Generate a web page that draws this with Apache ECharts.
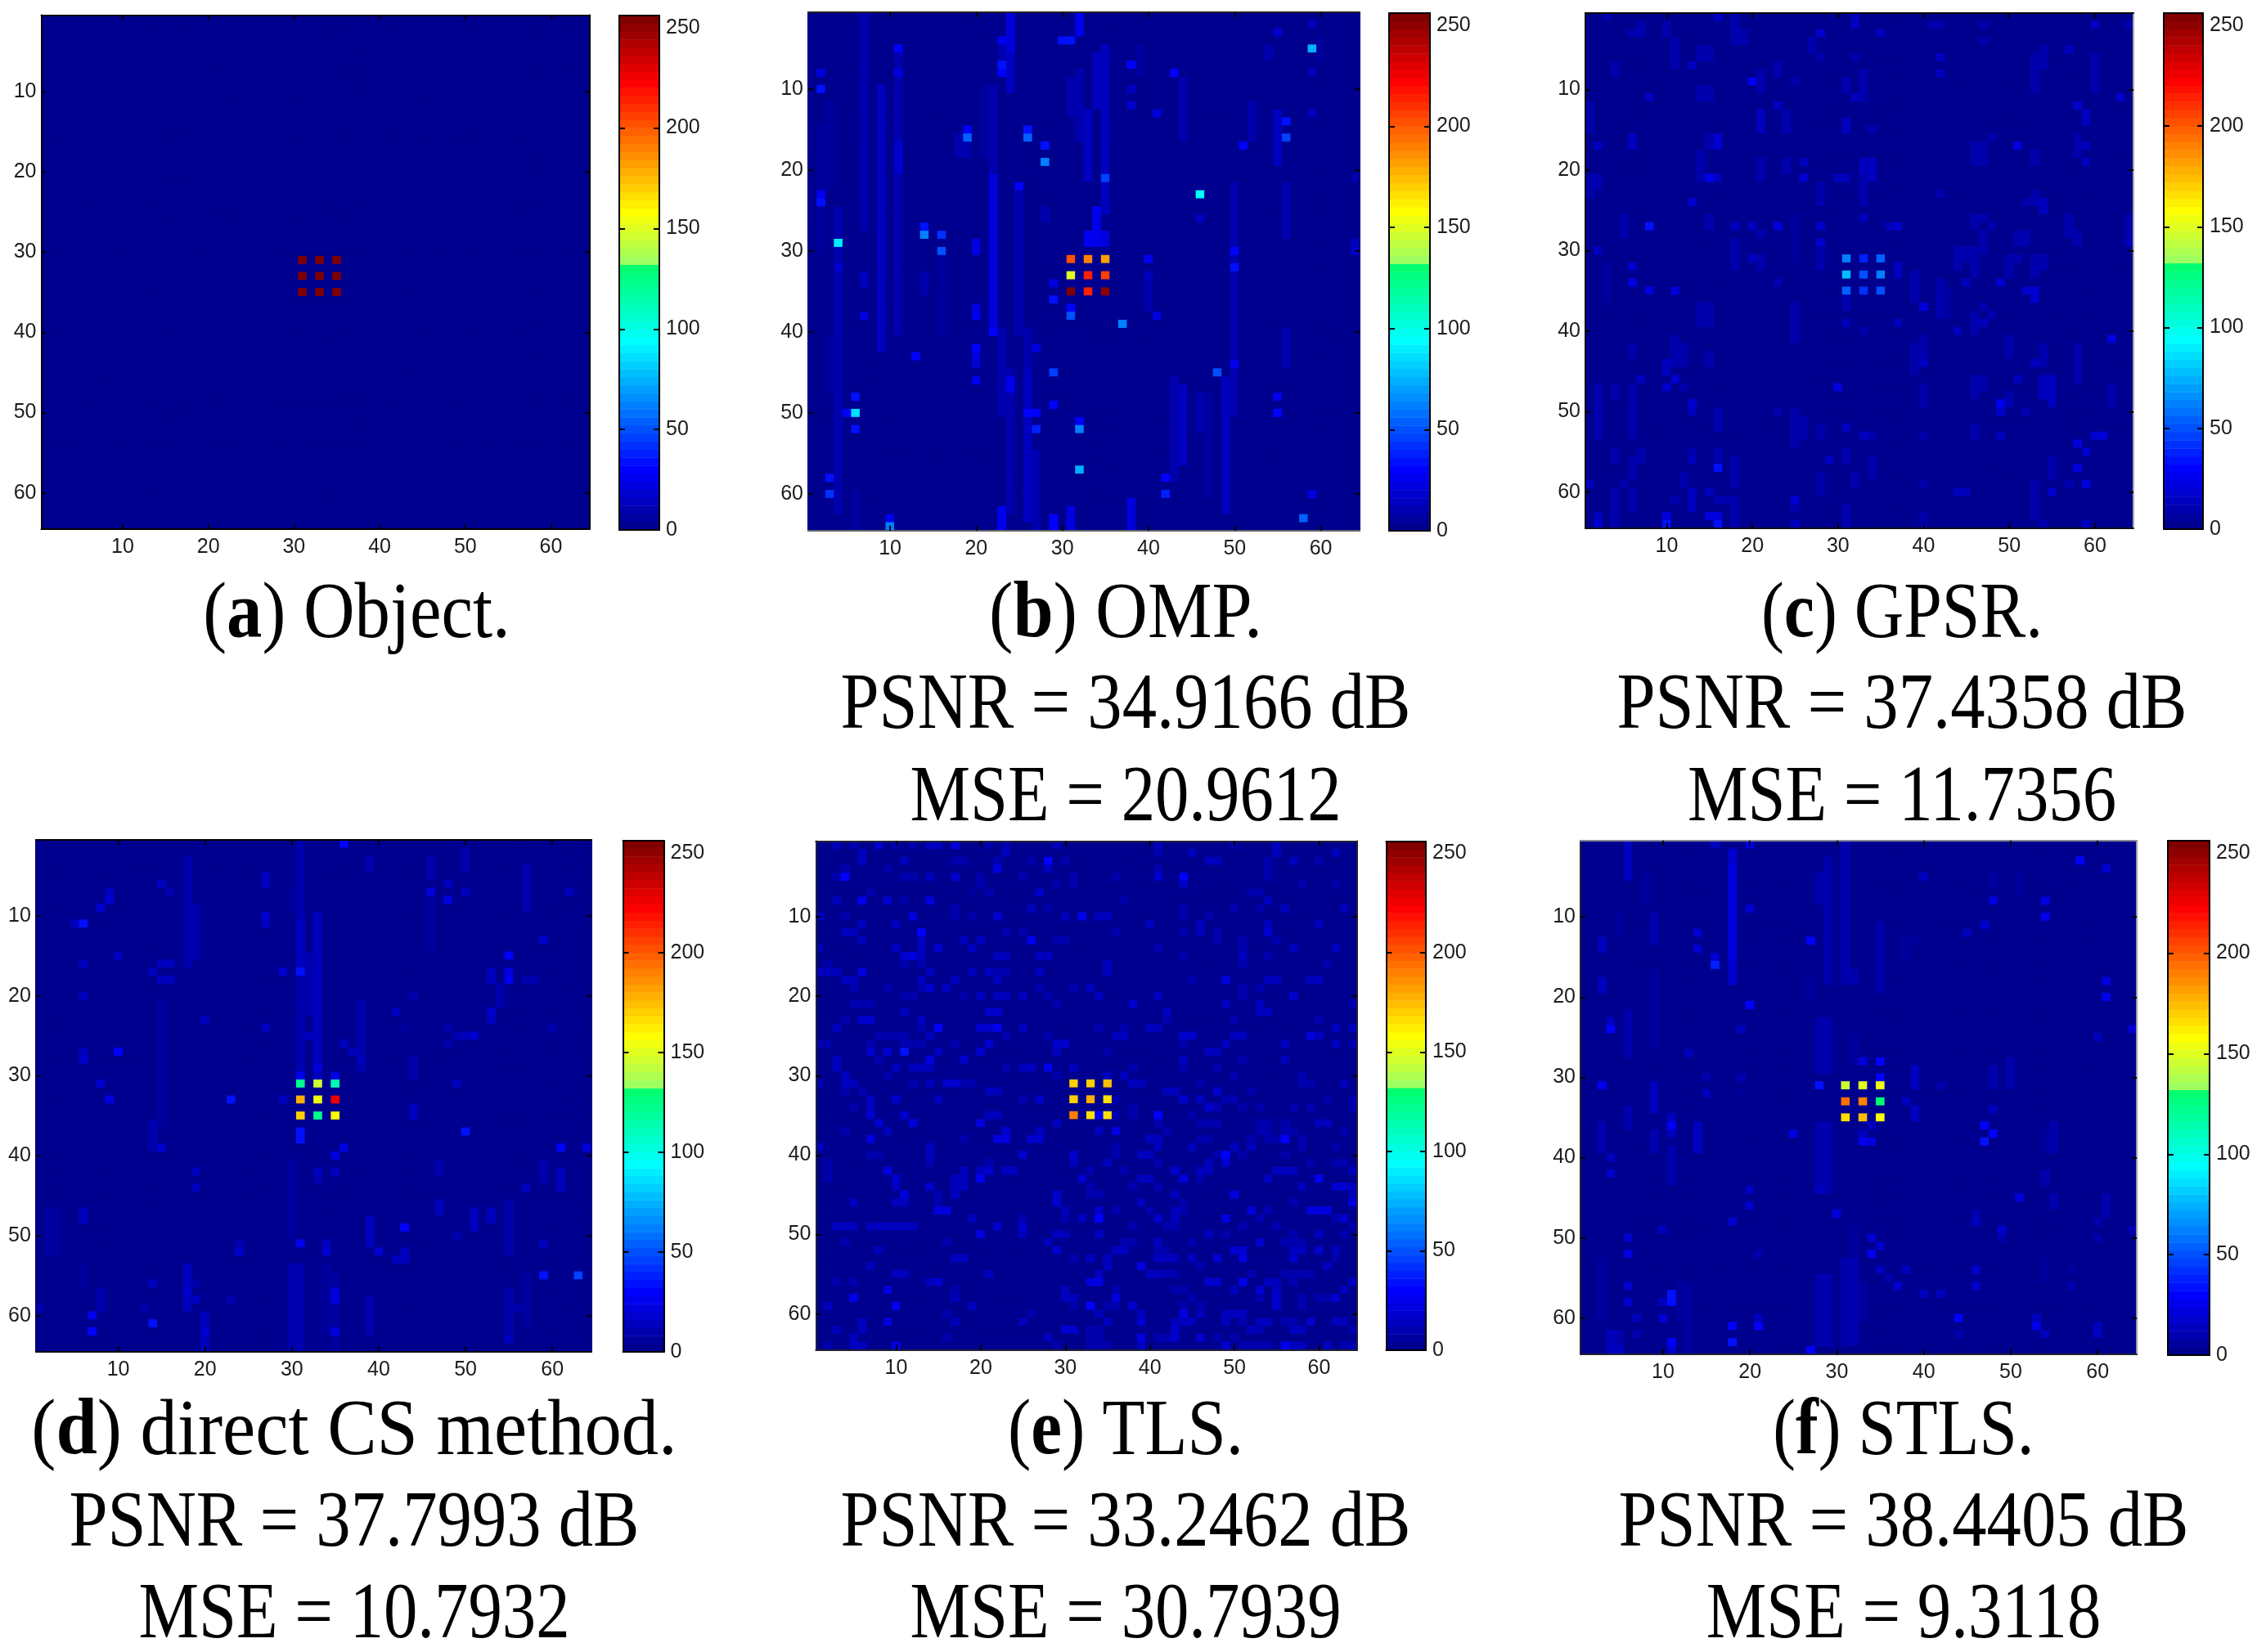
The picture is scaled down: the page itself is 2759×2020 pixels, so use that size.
<!DOCTYPE html>
<html><head><meta charset="utf-8">
<style>html,body{margin:0;padding:0;background:#fff}#chart{width:2759px;height:2020px}</style>
<script src="https://cdn.jsdelivr.net/npm/echarts@6/dist/echarts.min.js"></script>
</head><body><div id="chart"></div>
<script>
// ---------- values ----------
const xyTickValues = [10,20,30,40,50,60];
const colorbarTicks = [0,50,100,150,200,250];
const colorbarMarks = [50,100,150,200];

// background level of each reconstruction
const baseObject = 0, baseOMP = 2, baseGPSR = 3, baseCS = 2, baseTLS = 3, baseSTLS = 2;

// [col, row, value]
const objectCells = [[31,31,255],[33,31,255],[35,31,255],[31,33,255],[33,33,255],[35,33,255],[31,35,255],[33,35,255],[35,35,255]];

// [col, rowStart, rowEnd, value]: vertical streaks
const ompStreaks = [[22,10,20,10],[22,21,39,20],[24,1,5,22],[24,6,10,12],[9,10,42,12],[7,1,27,8],[11,6,40,10],[11,17,20,18],[4,25,62,8],[26,44,63,13],[24,45,62,9],[23,40,50,8],[25,23,40,8],[32,1,3,25],[32,8,16,10],[31,9,13,10],[34,6,12,12],[35,5,25,13],[33,13,21,12],[34,25,29,24],[33,28,29,24],[35,28,29,22],[44,47,56,12],[43,46,58,10],[49,46,62,12],[50,22,50,11],[46,48,52,9],[52,12,16,8],[44,9,16,8],[38,61,64,20],[23,62,64,25],[29,63,64,28],[31,62,64,20],[27,55,64,9],[54,5,6,8],[55,13,19,12],[56,22,28,8],[3,12,22,6],[2,15,30,6],[16,30,40,6],[14,33,35,8],[23,5,8,8],[40,33,37,9],[28,25,26,10],[19,15,18,9],[18,16,18,8],[26,40,44,8],[56,40,44,8],[50,42,44,10],[21,10,18,5],[6,60,64,7],[3,41,47,6],[39,5,8,5],[60,4,6,5],[47,48,60,5]];
const ompCells = [[31,31,200],[33,31,188],[35,31,180],[31,33,148],[33,33,215],[35,33,205],[31,35,252],[33,35,215],[35,35,250],
[59,5,75],[46,23,92],[4,29,88],[14,28,60],[14,27,35],[16,28,40],[16,30,50],[19,16,55],[19,15,30],[26,16,55],[26,15,32],[28,17,35],[28,19,62],[35,21,45],[25,22,30],[37,39,60],[31,38,50],[31,37,30],[32,57,75],[32,52,60],[32,51,28],[6,50,85],[5,50,30],[6,48,35],[6,52,32],[29,45,45],[48,45,50],[58,63,55],[10,64,60],[10,63,25],[3,60,40],[3,58,32],[42,60,38],[42,58,30],[55,50,30],[55,48,25],[27,52,38],[26,50,30],[27,50,30],[29,49,28],[43,8,28],[38,7,28],[23,7,32],[23,8,30],[11,5,28],[11,8,22],[2,8,22],[2,10,32],[2,23,25],[2,24,32],[30,4,33],[31,4,33],[23,4,25],[55,3,18],[41,13,22],[38,12,18],[38,10,15],[56,14,32],[56,16,45],[51,17,30],[40,31,25],[50,32,35],[50,30,30],[50,44,25],[29,34,20],[29,36,32],[41,38,22],[22,40,30],[22,39,20],[20,37,22],[20,38,25],[20,29,20],[20,30,22],[20,42,28],[20,43,20],[20,44,18],[20,46,25],[13,43,28],[27,42,22],[7,38,22],[7,33,15],[7,34,15],[24,46,25],[24,47,26],[59,60,22],[59,8,14],[59,13,12],[59,2,14],[4,32,18],[46,26,14],[40,33,14],[64,29,12],[64,30,16],[64,21,10]];

const gpsrStreaks = [[32,1,2,14],[7,2,3,8],[10,2,3,8],[18,1,4,8],[19,3,4,8],[27,4,5,9],[11,4,7,8],[14,5,6,9],[15,5,6,9],[54,5,7,10],[53,6,10,8],[23,7,8,11],[4,7,8,9],[60,6,10,9],[33,8,11,8],[31,9,10,9],[21,8,10,10],[14,10,11,10],[15,10,11,10],[21,13,15,13],[24,13,15,9],[31,14,15,12],[59,13,14,14],[1,12,15,8],[6,16,17,14],[15,16,17,10],[16,16,17,16],[46,17,18,10],[47,17,18,9],[58,16,18,10],[14,18,21,9],[21,19,21,10],[24,19,20,9],[33,19,21,12],[34,19,21,12],[53,18,19,9],[2,21,22,8],[1,21,23,8],[28,22,24,8],[33,21,24,8],[53,23,24,10],[54,24,25,12],[5,26,28,8],[25,26,31,7],[46,26,27,10],[57,26,28,8],[64,26,28,8],[15,26,27,10],[47,28,30,9],[51,28,29,10],[52,28,29,10],[58,28,29,8],[18,29,32,9],[21,31,32,10],[28,30,32,8],[44,30,32,8],[45,30,31,8],[46,30,33,10],[50,31,33,9],[53,31,33,9],[54,31,32,11],[3,32,36,7],[37,32,33,12],[39,33,36,8],[42,34,38,8],[43,35,38,7],[14,37,39,10],[15,37,39,10],[25,37,41,10],[31,36,37,10],[46,38,40,8],[11,41,44,11],[12,42,44,8],[40,41,44,10],[39,42,45,8],[50,41,43,9],[54,42,44,11],[6,42,43,8],[15,43,44,10],[58,42,46,9],[47,46,47,8],[54,46,48,12],[55,46,49,12],[2,47,52,10],[4,47,48,8],[6,47,53,9],[62,47,49,9],[46,46,48,8],[40,47,49,9],[50,48,49,11],[16,50,52,8],[25,50,54,8],[26,51,53,8],[28,52,53,11],[46,52,53,9],[2,52,53,9],[4,55,56,9],[7,55,56,10],[13,55,56,8],[16,55,56,10],[31,55,56,10],[6,56,58,9],[18,56,59,10],[34,56,58,9],[55,56,58,8],[12,58,59,9],[28,58,60,8],[32,58,59,8],[53,59,60,11],[13,60,62,12],[6,60,62,8],[4,60,63,8],[18,61,64,11],[25,61,62,9],[53,61,62,9],[31,62,64,8],[40,63,64,9],[53,62,63,8]];
const gpsrCells = [[31,31,60],[33,31,38],[35,31,55],[31,33,78],[33,33,50],[35,33,60],[31,35,52],[33,35,42],[35,35,48],
[8,27,32],[16,57,32],[16,64,32],[15,63,22],[16,63,22],[10,64,32],[10,63,22],[2,64,22],[2,63,15],[20,9,25],[15,21,25],[6,34,20],[6,32,18],[8,35,20],[11,35,22],[40,37,20],[49,49,25],[49,34,18],[52,35,18],[53,35,18],[53,36,18],[61,53,22],[60,53,18],[58,54,22],[58,57,22],[59,55,18],[59,59,20],[57,59,18],[58,12,18],[2,17,15],[28,3,18],[26,21,18],[28,27,18],[28,29,18],[23,12,15],[23,27,20],[20,27,15],[18,27,15],[37,27,18],[30,47,20],[63,11,18],[62,41,22],[51,17,20],[13,24,18],[13,7,14],[13,49,18],[6,16,15],[11,46,18],[10,44,14],[15,60,15],[25,61,18],[45,60,15],[44,60,15],[55,60,18],
[16,1,12],[3,1,10],[60,2,14],[64,2,9],[42,2,10],[41,2,10],[6,3,11],[35,3,12],[47,2,10],[47,4,10],[57,5,14],[32,6,10],[42,6,14],[42,8,13],[28,6,10],[25,9,11],[8,11,14],[32,11,12],[34,15,8],[48,16,8],[59,17,14],[26,19,14],[46,19,11],[47,19,10],[59,19,13],[30,21,12],[31,21,12],[16,21,12],[42,23,9],[52,24,10],[33,26,12],[47,26,11],[48,27,10],[36,27,14],[21,28,10],[64,29,12],[2,30,14],[20,31,14],[51,31,11],[45,34,12],[23,34,11],[47,37,10],[48,38,10],[47,39,13],[37,39,12],[31,39,12],[33,40,10],[44,40,14],[53,44,14],[40,44,14],[10,45,12],[10,47,16],[12,47,10],[7,46,12],[51,46,14],[13,50,14],[23,50,11],[52,50,10],[49,50,16],[31,52,14],[40,53,11],[33,53,13],[34,53,10],[49,53,12],[13,56,12],[29,56,13],[1,59,14],[5,59,11],[40,59,10],[57,59,11],[16,61,10],[17,61,10],[11,61,10],[2,64,18],[25,64,12],[59,64,12],[54,64,10],[4,64,10]];

const csStreaks = [[31,1,30,10],[31,11,16,14],[33,10,24,12],[18,3,16,10],[19,9,15,8],[15,21,36,7],[14,36,39,10],[30,41,50,6],[30,54,64,8],[31,54,64,9],[55,46,52,8],[57,4,9,10],[39,48,51,12],[39,58,62,10],[20,60,64,12],[18,54,59,15],[44,28,30,10],[46,8,14,7],[2,47,52,6],[3,47,52,6],[6,54,56,6],[6,47,48,15],[51,47,49,14],[53,47,48,12],[33,26,30,14],[47,41,42,10],[47,46,47,14],[38,21,29,8],[54,19,21,10],[57,55,61,6],[55,57,62,9],[8,57,59,8],[50,2,4,10],[39,3,4,8],[46,3,5,8],[30,7,9,7],[32,15,22,9],[44,34,35,14],[35,55,64,7],[34,54,62,6],[59,41,43,9],[61,42,44,12]];
const csCells = [[31,31,120],[33,31,145],[35,31,112],[31,33,178],[33,33,155],[35,33,225],[31,35,170],[33,35,122],[35,35,158],
[36,1,30],[6,11,35],[5,11,15],[31,17,35],[29,17,18],[55,15,28],[55,18,25],[55,17,20],[10,27,30],[6,27,15],[6,28,18],[23,33,32],[9,33,20],[8,31,18],[50,37,32],[31,37,32],[31,38,35],[61,39,30],[64,39,20],[15,39,18],[36,39,22],[35,40,20],[43,49,28],[31,51,25],[24,52,18],[40,52,18],[34,52,18],[59,55,32],[63,55,45],[14,61,32],[7,60,25],[7,62,28],[55,63,15],[35,62,22],[35,57,20],[35,58,20],[49,31,15],[46,7,22],[50,7,15],[48,8,20],[48,6,15],[62,7,15],[53,18,15],[53,17,15],[53,22,16],[53,23,12],[59,13,18],[31,30,25],[35,30,22],[33,29,20],[27,5,15],[27,6,15],[27,10,18],[27,11,12],[9,8,16],[9,7,12],[8,9,18],[16,7,10],[15,6,15],[20,23,15],[27,24,15],[42,22,15],[50,25,15],[51,25,18],[6,16,15],[10,15,14],[15,16,14],[16,16,14],[14,17,14],[15,18,14],[16,18,14],[6,20,12],[58,18,10],[57,18,10],[44,20,8],[32,25,14],[33,25,14],[37,27,14],[36,26,12],[38,28,14],[29,33,14],[19,44,13],[19,42,12],[61,43,12],[61,44,14],[57,44,12],[18,57,18],[19,58,13],[19,56,10],[13,59,10],[1,59,9],[24,51,10],[33,42,14],[35,42,14],[33,43,10],[43,53,14],[42,53,12],[43,52,14],[34,51,12],[49,50,10],[59,51,14],[20,61,14],[20,62,16],[14,56,14],[23,58,10],[56,59,10],[60,24,8],[49,25,8],[48,24,8],[48,26,9],[43,24,7]];

// TLS residual background: each row lists [row, col, value, col, value, ...]
const tlsRows = [
[1,3,12,5,9,8,16,10,9,12,9,14,13,15,13,17,22,21,8,23,10,29,14,41,12,50,10,55,12],
[2,6,12,23,14,41,10,45,12,55,12,62,12],
[3,6,12,11,12,17,8,18,8,22,10,26,10,28,30,30,10,47,12,48,12,54,9,57,14,60,9],
[4,4,10,9,11,22,22,28,12,41,9,54,10],
[5,3,9,4,28,11,10,12,10,14,12,17,18,20,9,25,9,31,10,36,10,41,16,44,28,54,10],
[6,20,10,29,10,31,10,44,14,58,10,62,10],
[7,7,8,19,7,21,8,27,18,52,11,53,11],
[8,3,13,6,25,9,16,11,10,14,20,37,9,54,12],
[9,17,10,26,12,28,10,44,9,50,9,53,10,56,12,63,12],
[10,1,12,4,9,12,20,17,9,19,10,22,16,30,14,32,24,34,14,35,14,44,10,47,10],
[11,6,14,10,12,40,12,46,12,54,12,60,12],
[12,4,15,5,15,13,28,23,10,25,10,36,10,44,10,46,12,48,10,54,16],
[13,6,12,13,14,18,12,20,12,26,26,29,11,30,11,48,9,51,10,55,10],
[14,1,11,10,12,13,14,15,18,19,13,41,10,51,10,57,12,62,12],
[15,11,16,12,20,13,12,22,12,23,12,27,14,28,14,44,10,51,12,54,10],
[16,2,10,11,11,13,10,35,15,51,10,61,10],
[17,1,13,2,13,3,13,6,22,14,14,19,14,21,12,22,10,23,10,27,12,35,14],
[18,4,15,5,15,13,14,17,12,22,12,45,8,49,22,54,12,55,12,59,12,60,12],
[19,5,11,9,10,13,10,14,18,16,14,27,9,31,10,33,14,51,11,53,10],
[20,11,10,12,10,18,8,20,14,22,12,23,12,25,14,28,10,34,12,41,12,51,9,57,18],
[21,5,11,6,11,7,11,29,10,38,16,49,12,53,14,64,11],
[22,11,12,21,16,22,16,42,13,53,14,54,14],
[23,4,8,6,16,7,16,13,12,42,10,50,9,60,10],
[24,3,13,13,11,15,28,20,16,21,16,22,24,25,12,34,10,37,10,40,14,41,14,62,13,64,13],
[25,8,11,9,11,10,11,11,11,14,14,23,11,28,10,36,14,37,14,44,16,45,16,50,14,51,14,59,20,60,14],
[26,1,8,2,8,7,10,11,10,12,10,13,10,17,10,21,18,29,18,30,18,44,10,49,12,56,12,62,12,64,10],
[27,7,16,9,16,11,34,15,15,20,18,29,15,35,10,47,12,48,12],
[28,3,12,8,9,14,20,18,16,44,12,51,10,56,14],
[29,3,14,10,12,12,13,13,13,14,13,23,9,25,12,26,12,28,24,31,12,38,10,44,11,48,10],
[30,4,12,9,10,29,9,35,14,37,14,50,9,58,10],
[31,1,10,4,12,5,12,12,11,14,12,16,16,17,16,18,9,19,9,38,12,39,12,46,10,58,11,59,11,63,12],
[32,4,10,6,10,21,12,22,12,42,12,43,12,48,18,52,9],
[33,7,14,10,16,15,13,25,11,27,18,36,9,44,18,46,14,49,9,50,9,61,10,64,9],
[34,5,10,7,13,38,11,47,16,48,9,51,8,53,10,57,9,59,9,64,9],
[35,7,16,11,18,21,12,22,12,34,30,36,9,38,9,41,30,45,9],
[36,8,18,12,20,20,22,29,14,41,10,46,11,47,11,48,11,53,11,54,11,56,11,60,12,61,12],
[37,4,10,9,12,23,16,27,12,34,15,36,20,42,8,53,10,54,10,56,11,57,11,63,8],
[38,7,22,18,10,22,20,23,20,26,16,27,16,40,14,41,14,46,10,47,10,52,8,54,9,55,9,56,30,58,11],
[39,1,12,14,12,36,11,41,15,45,13,50,14,52,12,58,10,62,8],
[40,7,11,8,11,14,14,25,16,31,18,36,10,39,14,40,14,48,10,49,28,51,8,56,9],
[41,2,10,14,10,21,10,31,14,35,14,41,8,47,14,49,16,59,8,62,9,63,9],
[42,2,10,9,20,18,14,20,12,21,18,23,12,24,12,33,10,37,11,43,18,46,12,47,12,55,12,56,12,57,12,64,12],
[43,2,10,10,16,17,14,18,14,20,26,32,18,39,12,40,12,44,22,46,10,54,12,60,26],
[44,10,12,14,16,17,12,18,12,33,10,38,11,41,10,58,14,62,18,63,18,64,14],
[45,11,22,15,10,17,14,29,18,33,10,34,10,43,14,50,20,64,14],
[46,5,12,10,12,11,12,15,10,29,18,39,12,44,10,57,9,64,20],
[47,15,20,16,20,30,12,34,18,36,8,40,9,43,12,44,9,52,22,54,10,59,20,60,20,61,20],
[48,19,12,25,10,30,10,32,12,34,28,41,18,43,12,49,20,53,8,62,9,63,16],
[49,3,15,4,15,5,15,7,14,8,14,9,14,10,14,11,14,12,14,22,16,25,16,38,10,42,10,43,10,51,8,55,8,64,10],
[50,20,20,25,14,29,14,30,14,34,15,47,14,49,10,57,8,60,15,63,10],
[51,4,10,16,11,28,14,37,11,38,11,41,12,45,11,53,16,56,11,57,11,58,11],
[52,8,12,29,16,36,14,37,14,41,10,42,10,50,18,51,18,57,13,58,13,60,18,62,12],
[53,17,14,18,14,31,10,33,12,35,14,41,13,42,13,43,13,45,14,48,18,51,20,57,16,62,10],
[54,7,14,35,14,39,20,46,8,61,12],
[55,10,12,11,12,21,12,34,15,40,14,41,14,42,10,43,10,52,9,56,10,57,10,58,10,59,10],
[56,3,11,5,11,14,14,15,16,33,20,34,20,47,18,48,18,51,24,54,12,55,12,57,11,64,14],
[57,9,20,17,10,30,12,36,11,43,9,44,9,50,14,53,16,55,12,63,14],
[58,5,24,17,14,30,14,31,14,36,20,45,8,53,9,55,18,58,10,60,10,61,10,62,18],
[59,2,14,10,26,19,14,31,10,33,30,35,8,36,8,38,16,44,9,46,10,55,18,58,10],
[60,16,10,26,10,34,14,39,12,44,20,46,12,49,13,50,13,51,13],
[61,6,14,9,20,17,14,25,12,35,12,39,16,43,14,44,14,45,14,49,12,51,11,53,13,54,13,56,10,57,10,59,16,62,12,63,12],
[62,3,14,6,14,30,16,31,16,33,8,34,8,43,16,52,13,53,10,57,14,58,14,64,10],
[63,5,12,16,11,28,14,33,9,34,9,39,20,41,9,42,9,43,16,46,16,48,10,50,10],
[64,2,10,5,12,6,12,10,20,29,10,33,9,34,9,35,9,39,14,49,16,51,10,52,10,53,10,54,10,56,24,57,15,58,15,61,14,63,11,64,11]
];
const tlsCells = [[31,31,170],[33,31,168],[35,31,173],[31,33,170],[33,33,176],[35,33,167],[31,35,190],[33,35,165],[35,35,165]];

const stlsStreaks = [[18,2,18,18],[18,4,15,22],[6,1,5,12],[8,5,8,7],[29,3,18,8],[28,5,8,8],[31,1,17,8],[35,11,19,9],[9,17,26,6],[6,22,27,9],[28,23,29,8],[29,23,29,8],[32,25,28,7],[9,31,34,12],[14,36,39,12],[6,34,36,9],[28,36,44,8],[29,36,44,8],[11,39,43,9],[55,36,39,9],[54,37,39,7],[32,49,53,6],[3,53,60,7],[12,56,60,7],[13,56,64,7],[28,55,63,8],[29,55,63,8],[31,53,63,9],[32,53,63,9],[33,56,60,7],[61,45,47,10],[39,29,31,12],[39,34,35,13],[50,28,31,10],[4,62,64,12],[5,62,64,10],[48,5,6,7],[51,5,7,6],[9,10,13,8],[5,10,12,6],[38,13,15,7],[39,13,13,7],[31,16,18,10],[32,17,18,10],[27,18,20,7],[3,36,39,8],[9,37,39,10],[54,42,43,8],[55,45,46,9],[46,47,48,10],[54,53,55,7],[48,29,31,8]];
const stlsCells = [[31,31,147],[33,31,150],[35,31,153],[31,33,195],[33,33,190],[35,33,128],[31,35,167],[33,35,175],[35,35,157],
[58,3,28],[61,4,16],[40,5,15],[48,8,20],[54,8,22],[54,10,25],[47,11,18],[45,12,14],[20,9,18],[27,13,30],[14,12,16],[14,14,18],[16,16,38],[16,15,18],[61,18,20],[61,20,25],[3,18,15],[3,19,12],[3,13,13],[3,14,12],[20,21,28],[4,23,15],[4,24,30],[19,24,15],[64,24,18],[60,25,14],[13,27,13],[33,28,20],[35,28,28],[35,30,28],[3,31,25],[28,31,32],[38,33,14],[11,36,30],[11,35,15],[11,37,14],[47,36,30],[48,37,28],[47,38,32],[25,37,20],[33,38,26],[34,38,20],[4,42,18],[4,40,14],[20,44,14],[20,46,16],[28,44,14],[51,45,20],[30,47,20],[18,48,18],[46,48,14],[49,49,18],[10,49,12],[6,50,17],[6,52,22],[34,50,18],[34,52,25],[35,51,18],[46,54,16],[46,56,16],[6,56,17],[37,56,16],[11,57,32],[11,58,32],[6,58,18],[42,57,15],[44,60,28],[53,60,14],[53,61,26],[18,61,30],[21,60,14],[21,61,30],[18,63,35],[11,63,28],[11,64,16],[54,62,14],[60,62,14],[27,64,28],[5,64,15],[20,1,22],[16,1,14],[15,30,10],[19,30,9],[42,31,10],[15,32,12],[19,32,7],[48,34,12],[34,36,12],[33,37,12],[10,58,14],[10,60,16],[7,60,12],[7,62,10],[60,48,10],[60,50,10],[49,50,8],[64,49,9],[21,52,10],[60,61,14],[38,54,12],[35,54,12],[36,55,10],[44,62,10],[40,57,12],[57,56,10],[57,54,6]];

// ---------- captions ----------
const captionLines = [
  ['a',' Object.',null,null],
  ['b',' OMP.','PSNR = 34.9166 dB','MSE = 20.9612'],
  ['c',' GPSR.','PSNR = 37.4358 dB','MSE = 11.7356'],
  ['d',' direct CS method.','PSNR = 37.7993 dB','MSE = 10.7932'],
  ['e',' TLS.','PSNR = 33.2462 dB','MSE = 30.7939'],
  ['f',' STLS.','PSNR = 38.4405 dB','MSE = 9.3118']
];

// ---------- page layout ----------
const panels = [
 {plot:[50.5,18.4,720.6,647],   bar:[757,19,806,648],     base:baseObject, cells:objectCells, streaks:[], border:['#000','#000','#000','#000'], capX:436, capY:[753,865,978], capSX:1.02},
 {plot:[988,15,1662,648.7],     bar:[1698,16,1748,649],   base:baseOMP,  cells:ompCells,  streaks:ompStreaks,  border:['#222','#666','#000080','#000080'], capX:1376, capY:[753,865,978], capSX:1.04},
 {plot:[1938,16,2608,646],      bar:[2645,16,2693,647],   base:baseGPSR, cells:gpsrCells, streaks:gpsrStreaks, border:['#000','#111','#111','#aaa'], capX:2325, capY:[753,865,978], capSX:0.985},
 {plot:[43.8,1027,723,1652.6],  bar:[761.5,1028,811.5,1653], base:baseCS, cells:csCells,  streaks:csStreaks,   border:['#000','#111','#000080','#000080'], capX:433, capY:[1752,1865,1977], capSX:1.065},
 {plot:[997.3,1028.6,1659,1650.5],bar:[1694.5,1029,1743,1651],base:baseTLS,cells:tlsCells, streaks:[], rows:tlsRows, border:['#223','#223','#223','#223'], capX:1376, capY:[1752,1865,1977], capSX:1},
 {plot:[1932,1028,2612,1656],   bar:[2650,1028,2701,1657],base:baseSTLS, cells:stlsCells, streaks:stlsStreaks, border:['#889','#223','#223','#99a'], capX:2327, capY:[1752,1865,1977], capSX:0.98}
];

// MATLAB jet, 64 steps, with the hard green step the reference colorbar shows at 132
function jetColor(i){
  const x=(i+1)/64, c=v=>Math.max(0,Math.min(1,v));
  let r=c(1.5-Math.abs(4*x-3)), g=c(1.5-Math.abs(4*x-2)), b=c(1.5-Math.abs(4*x-1));
  if(i<33) r=0;
  const h=v=>Math.round(v*255).toString(16).padStart(2,'0');
  return '#'+h(r)+h(g)+h(b);
}
const pieces=[];
for(let i=0;i<64;i++) pieces.push({gte:i*4, lt:(i+1)*4, color:jetColor(i)});

const gridIds=[...Array(64).keys()].map(i=>String(i+1));
const isTick=(idx,v)=>xyTickValues.includes(Number(v));
const labelFont={fontFamily:'"Liberation Sans",Arial,sans-serif',fontSize:25,color:'#1c1c1c'};

const grids=[],xAxes=[],yAxes=[],series=[],graphics=[];
panels.forEach((p,pi)=>{
  // matrix from the sparse readings
  const m=[];for(let r=0;r<64;r++){m.push(new Array(64).fill(p.base));}
  p.streaks.forEach(([c,a,b,v])=>{for(let r=a;r<=b;r++)m[r-1][c-1]=v;});
  (p.rows||[]).forEach(row=>{for(let k=1;k<row.length;k+=2)m[row[0]-1][row[k]-1]=row[k+1];});
  p.cells.forEach(([c,r,v])=>{m[r-1][c-1]=v;});
  const data=[];for(let r=0;r<64;r++)for(let c=0;c<64;c++)data.push([c,r,m[r][c]]);

  const [l,t,rr,b]=p.plot; const [top,bottom,left,right]=p.border;
  const g=grids.length;
  grids.push({show:true,backgroundColor:jetColor(Math.floor(p.base/4)),borderWidth:0,left:l,top:t,width:rr-l,height:b-t,containLabel:false});
  const xi=xAxes.length, yi=yAxes.length;
  const tick=()=>({show:true,inside:true,length:6,alignWithLabel:true,interval:isTick,lineStyle:{color:'#000',width:2}});
  xAxes.push({type:'category',gridIndex:g,position:'bottom',data:gridIds,z:5,axisLine:{show:true,onZero:false,lineStyle:{color:bottom,width:2}},axisTick:tick(),axisLabel:{...labelFont,interval:isTick,margin:10},splitLine:{show:false}});
  xAxes.push({type:'category',gridIndex:g,position:'top',data:gridIds,z:5,axisLine:{show:true,onZero:false,lineStyle:{color:top,width:2}},axisTick:tick(),axisLabel:{show:false},splitLine:{show:false}});
  yAxes.push({type:'category',gridIndex:g,position:'left',inverse:true,data:gridIds,z:5,axisLine:{show:true,onZero:false,lineStyle:{color:left,width:2}},axisTick:tick(),axisLabel:{...labelFont,interval:isTick,margin:6},splitLine:{show:false}});
  yAxes.push({type:'category',gridIndex:g,position:'right',inverse:true,data:gridIds,z:5,axisLine:{show:true,onZero:false,lineStyle:{color:right,width:2}},axisTick:tick(),axisLabel:{show:false},splitLine:{show:false}});
  series.push({type:'heatmap',xAxisIndex:xi,yAxisIndex:yi,data,progressive:0,silent:true,emphasis:{disabled:true},itemStyle:{borderWidth:0}});

  // colorbar
  const [bl,bt,br,bb]=p.bar;
  const g2=grids.length;
  grids.push({left:bl,top:bt,width:br-bl,height:bb-bt,containLabel:false});
  const bx=xAxes.length, by=yAxes.length;
  const levels=[...Array(64).keys()].map(i=>String(i*4+2));
  xAxes.push({type:'category',gridIndex:g2,position:'bottom',data:['bar'],z:5,axisLine:{show:true,onZero:false,lineStyle:{color:'#000',width:2}},axisTick:{show:false},axisLabel:{show:false},splitLine:{show:false}});
  xAxes.push({type:'category',gridIndex:g2,position:'top',data:['bar'],z:5,axisLine:{show:true,onZero:false,lineStyle:{color:'#000',width:2}},axisTick:{show:false},axisLabel:{show:false},splitLine:{show:false}});
  yAxes.push({type:'category',gridIndex:g2,position:'left',data:levels,show:false});
  const vTick={show:true,inside:true,length:7,customValues:colorbarMarks,lineStyle:{color:'#000',width:2}};
  yAxes.push({type:'value',gridIndex:g2,position:'left',min:0,max:256,interval:50,z:5,axisLine:{show:true,onZero:false,lineStyle:{color:'#000',width:2}},axisTick:vTick,axisLabel:{show:false},splitLine:{show:false}});
  yAxes.push({type:'value',gridIndex:g2,position:'right',min:0,max:256,interval:50,z:5,axisLine:{show:true,onZero:false,lineStyle:{color:'#000',width:2}},axisTick:vTick,axisLabel:{...labelFont,margin:8,customValues:colorbarTicks},splitLine:{show:false}});
  series.push({type:'heatmap',xAxisIndex:bx,yAxisIndex:by,data:levels.map((v,i)=>[0,i,Number(v)]),silent:true,emphasis:{disabled:true}});

  // caption
  const cap=captionLines[pi];
  const fam='"Liberation Serif","Times New Roman",serif';
  graphics.push({type:'text',x:p.capX,y:p.capY[0],scaleX:p.capSX,scaleY:1.15,silent:true,style:{text:'({b|'+cap[0]+'}){r|'+cap[1]+'}',align:'center',verticalAlign:'middle',fill:'#000',fontFamily:fam,fontSize:85,rich:{b:{fontFamily:fam,fontSize:85,fontWeight:'bold',fill:'#000'},r:{fontFamily:fam,fontSize:85,fill:'#000'}}}});
  [2,3].forEach((k,j)=>{ if(cap[k]) graphics.push({type:'text',x:p.capX,y:p.capY[j+1],scaleX:k===2?1.008:0.985,scaleY:1.15,silent:true,style:{text:cap[k],align:'center',verticalAlign:'middle',fill:'#000',fontFamily:fam,fontSize:84}}); });
});

const chart=echarts.init(document.getElementById('chart'),null,{renderer:'canvas'});
chart.setOption({
  animation:false,
  backgroundColor:'#fff',
  tooltip:{show:false},
  grid:grids,xAxis:xAxes,yAxis:yAxes,
  visualMap:{type:'piecewise',show:false,dimension:2,seriesIndex:series.map((s,i)=>i),pieces},
  series,graphic:graphics
});
</script></body></html>
